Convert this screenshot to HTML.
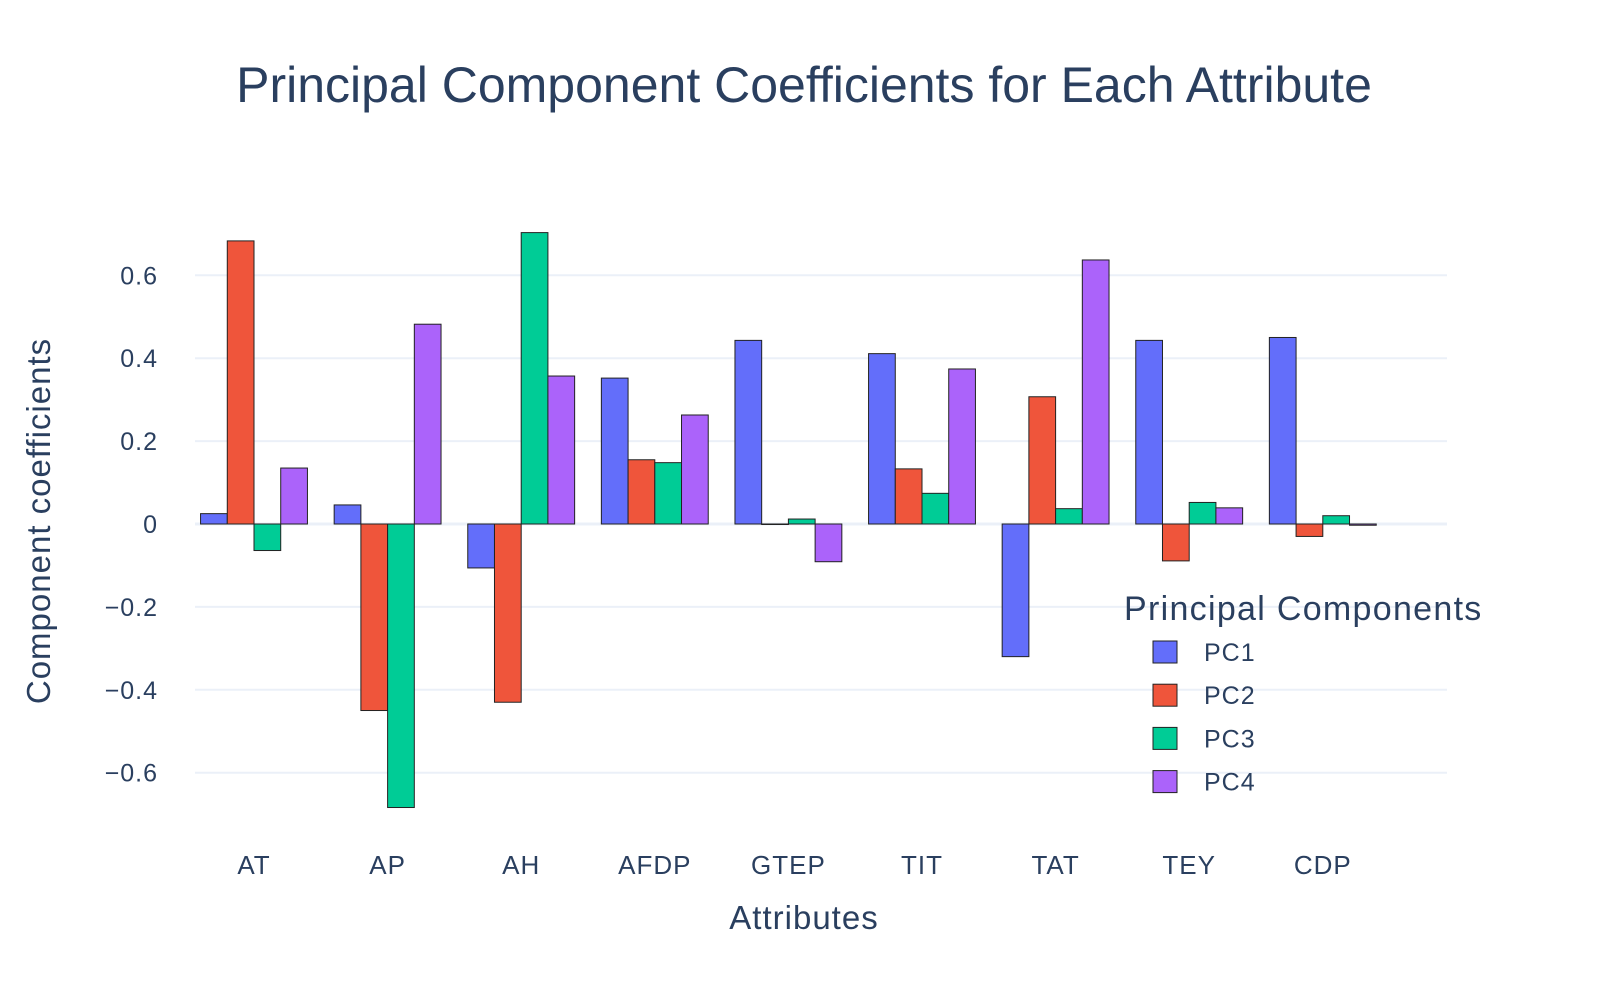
<!DOCTYPE html>
<html><head><meta charset="utf-8"><style>
body{margin:0;background:#fff;font-family:"Liberation Sans",sans-serif}
svg text{font-family:"Liberation Sans",sans-serif;fill:#2a3f5f}
</style></head><body>
<svg id="chart" width="1600" height="1000" xmlns="http://www.w3.org/2000/svg">
<text x="804" y="102" font-size="50" text-anchor="middle">Principal Component Coefficients for Each Attribute</text>
<g id="grid"></g><g id="bars"></g><g id="axes"></g>
<text x="804" y="929" font-size="33" text-anchor="middle" letter-spacing="1">Attributes</text>
<text transform="translate(50,521) rotate(-90)" font-size="33" text-anchor="middle" letter-spacing="1">Component coefficients</text>
<g id="legend"></g>
</svg>
<script>
const categories=["AT","AP","AH","AFDP","GTEP","TIT","TAT","TEY","CDP"];
const pc1=[0.025,0.046,-0.106,0.352,0.443,0.411,-0.32,0.443,0.45];
const pc2=[0.683,-0.45,-0.43,0.155,-0.001,0.133,0.307,-0.089,-0.03];
const pc3=[-0.064,-0.684,0.703,0.148,0.012,0.074,0.037,0.052,0.02];
const pc4=[0.135,0.482,0.357,0.263,-0.091,0.374,0.637,0.039,-0.003];
const seriesNames=["PC1","PC2","PC3","PC4"];
const yTicks=[-0.6,-0.4,-0.2,0,0.2,0.4,0.6];
const yTickLabels=["\u22120.6","\u22120.4","\u22120.2","0","0.2","0.4","0.6"];
const series=[pc1,pc2,pc3,pc4];
const colors=["#636efa","#ef553b","#00cc96","#ab63fa"];
const NS="http://www.w3.org/2000/svg";
const step=133.6,x0=254-step/2,gx1=195,gx2=1447;
const y=v=>524-v*414.5;
const xc=i=>x0+step*(i+0.5);
function mk(t,a,p){const e=document.createElementNS(NS,t);for(const k in a)e.setAttribute(k,a[k]);document.getElementById(p).appendChild(e);return e;}
yTicks.forEach((t,i)=>{
 const l=mk('line',{x1:gx1,x2:gx2,y1:y(t),y2:y(t),stroke:'#ebf0f8','stroke-width':t===0?3:2},'grid');
 
 
 const tx=mk('text',{x:158,y:y(t)+9,'font-size':25,'text-anchor':'end','letter-spacing':1},'axes');
 tx.textContent=yTickLabels[i];
 
 
});
categories.forEach((c,i)=>{
 const tx=mk('text',{x:xc(i),y:874,'font-size':26,'text-anchor':'middle','letter-spacing':1},'axes');
 tx.textContent=c;
 
 
 const bw=step*0.8/4;
 series.forEach((s,j)=>{
  const v=s[i],bx=xc(i)-step*0.4+j*bw;
  const top=Math.min(y(v),y(0)),h=Math.abs(y(v)-y(0));
  const r=mk('rect',{x:bx,y:top,width:bw,height:Math.max(h,0.5),fill:colors[j],stroke:'#222','stroke-width':1},'bars');
  
  
 });
});
const lt=mk('text',{x:1124,y:620,'font-size':34,'letter-spacing':1.3},'legend');
lt.textContent="Principal Components";


seriesNames.forEach((n,j)=>{
 const yy=652+j*43.2;
 const r=mk('rect',{x:1153,y:yy-11,width:24,height:22,fill:colors[j],stroke:'#222','stroke-width':1},'legend');
 
 
 const t=mk('text',{x:1204,y:yy+9,'font-size':25,'letter-spacing':1},'legend');
 t.textContent=n;
 
 
});
</script>
</body></html>
